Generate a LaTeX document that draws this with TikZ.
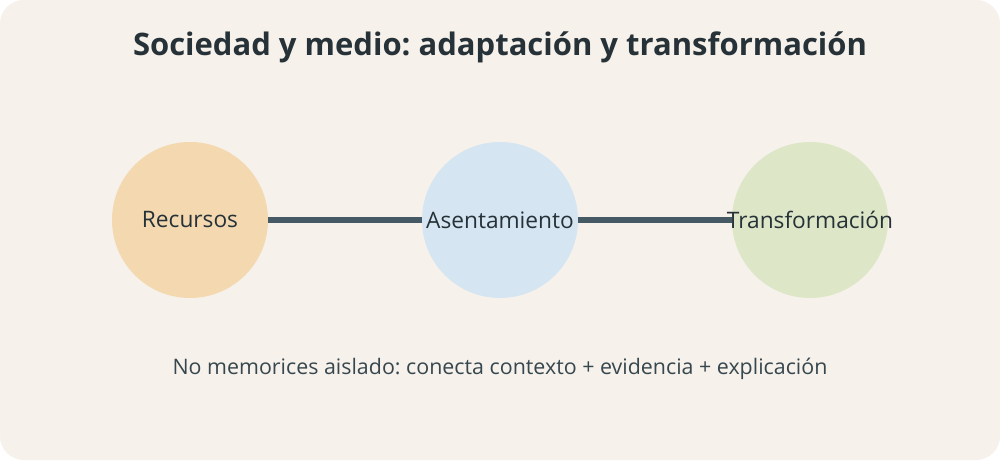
\documentclass[tikz,border=0pt]{standalone}
\usepackage{fontspec}
\setmainfont{Open Sans}
\frenchspacing
\definecolor{bgc}{HTML}{F6F1EA}
\definecolor{titc}{HTML}{263238}
\definecolor{subc}{HTML}{37474F}
\definecolor{linec}{HTML}{455A64}
\definecolor{oc}{HTML}{F3D8B0}
\definecolor{bc}{HTML}{D5E5F2}
\definecolor{gc}{HTML}{DDE7C8}
\tikzset{
  px/.style={x=1pt,y=1pt},
  stage/.style={circle, minimum size=156pt, inner sep=0pt, text=titc, font=\fontsize{22.7}{26}\selectfont},
  link/.style={draw=linec, line width=6pt},
}
\newcommand{\zw}[1]{\makebox[0pt]{#1}}
\begin{document}
\begin{tikzpicture}[px]
\useasboundingbox (0,0) rectangle (1000,460);
\fill[white] (0,0) rectangle (1000,460);
\fill[bgc, rounded corners=24pt] (0,0) rectangle (1000,460);
\node[font=\fontsize{31}{36}\selectfont\bfseries, text=titc] (title) at (500,413) {Sociedad y medio: adaptación y transformación};
\node[stage, fill=oc] (rec) at (190,240) {\zw{Recursos}};
\node[stage, fill=bc] (ase) at (500,240) {};
\node[stage, fill=gc] (tra) at (810,240) {};
\draw[link] (rec) -- (ase);
\draw[link] (ase) -- (tra);
\node[stage, fill=none, draw=none] (asel) at (ase) {\zw{Asentamiento}};
\node[stage, fill=none, draw=none] (tral) at (tra) {\zw{Transformación}};
\node[font=\fontsize{21.4}{25}\selectfont, text=subc] (note) at (500,91) {No memorices aislado: conecta contexto + evidencia + explicación};
\end{tikzpicture}
\end{document}
